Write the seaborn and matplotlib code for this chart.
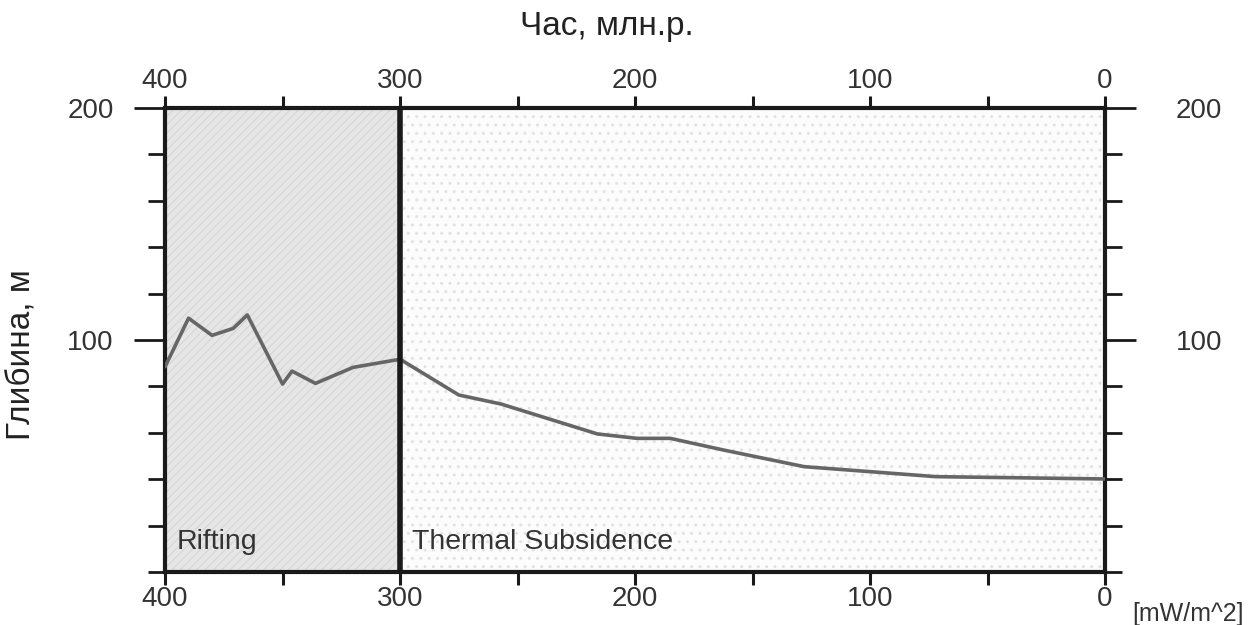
import matplotlib
matplotlib.use("Agg")
import matplotlib.pyplot as plt
import seaborn as sns
import pandas as pd
from matplotlib.ticker import MultipleLocator, FixedLocator, NullLocator

sns.set_style("white")
plt.rcParams['font.family'] = ['Liberation Sans', 'DejaVu Sans']

# Data
age = [400, 390, 380, 371, 365, 350, 346, 336, 320, 300, 275, 257, 216, 199, 185, 162, 128, 72, 0]
depth = [88.5, 109.4, 102, 105, 110.8, 81, 86.6, 81.3, 88.2, 91.7, 76.3, 72.4, 59.5, 57.6, 57.6, 52.5, 45.4, 41.1, 40.1]
phases = ["Rifting", "Thermal Subsidence"]
phase_start = [400, 300]
phase_end = [300, 0]
x_ticks = [400, 300, 200, 100, 0]
y_ticks = [100, 200]

df = pd.DataFrame({"age": age, "depth": depth})

fig = plt.figure(figsize=(12.6, 6.25), dpi=100)
ax = fig.add_axes([0.131, 0.0848, 0.746, 0.7424])

# phase backgrounds
ax.axvspan(phase_start[0], phase_end[0], facecolor="#e6e6e6", edgecolor="#d8d8d8",
           hatch="////", linewidth=0, zorder=0)
ax.axvspan(phase_start[1], phase_end[1], facecolor="#fcfcfc", edgecolor="#e2e2e2",
           hatch="..", linewidth=0, zorder=0)

sns.lineplot(data=df, x="age", y="depth", ax=ax, color="#666666", linewidth=2.6,
             sort=False, zorder=3)

ax.axvline(300, color="#1a1a1a", linewidth=4, zorder=4)

ax.set_xlim(400, 0)
ax.set_ylim(0, 200)

for s in ax.spines.values():
    s.set_linewidth(3)
    s.set_color("#1a1a1a")
    s.set_visible(True)

ax.xaxis.set_major_locator(FixedLocator(x_ticks))
ax.xaxis.set_minor_locator(MultipleLocator(50))
ax.yaxis.set_major_locator(FixedLocator(y_ticks))
ax.yaxis.set_minor_locator(MultipleLocator(20))

ax.tick_params(axis="x", which="both", top=True, bottom=True, labeltop=True, labelbottom=True,
               direction="out", length=9, width=2.2, color="#1a1a1a", labelsize=20,
               labelcolor="#333333", pad=1)
ax.tick_params(axis="y", which="major", left=True, right=True, labelleft=True, labelright=False,
               direction="out", length=22, width=2, color="#1a1a1a", labelsize=20,
               labelcolor="#333333", pad=15)
ax.tick_params(axis="y", which="minor", left=True, right=True,
               direction="out", length=12, width=2, color="#1a1a1a")

# right-hand labels with their own spacing
sec = ax.secondary_yaxis("right")
sec.yaxis.set_major_locator(FixedLocator(y_ticks))
sec.yaxis.set_minor_locator(NullLocator())
sec.tick_params(axis="y", length=0, pad=51, labelsize=20, labelcolor="#333333")
sec.spines["right"].set_visible(False)

ax.set_xlabel("")
ax.set_ylabel("")
fig.text(22 / 1260, 1 - 355 / 625, "Глибина, м", rotation=90, ha="center", va="center",
         fontsize=24, color="#222222")
fig.text(607 / 1260, 1 - 27 / 625, "Час, млн.р.", ha="center", va="center", fontsize=24,
         color="#222222")

ax.text(395, 13, phases[0], fontsize=20.5, color="#333333", va="center", ha="left")
ax.text(295, 13, phases[1], fontsize=20.5, color="#333333", va="center", ha="left")

fig.text(1132 / 1260, 1 - 614 / 625, "[mW/m^2]", fontsize=18, color="#333333",
         ha="left", va="center")

fig.savefig("out.png", dpi=100)
